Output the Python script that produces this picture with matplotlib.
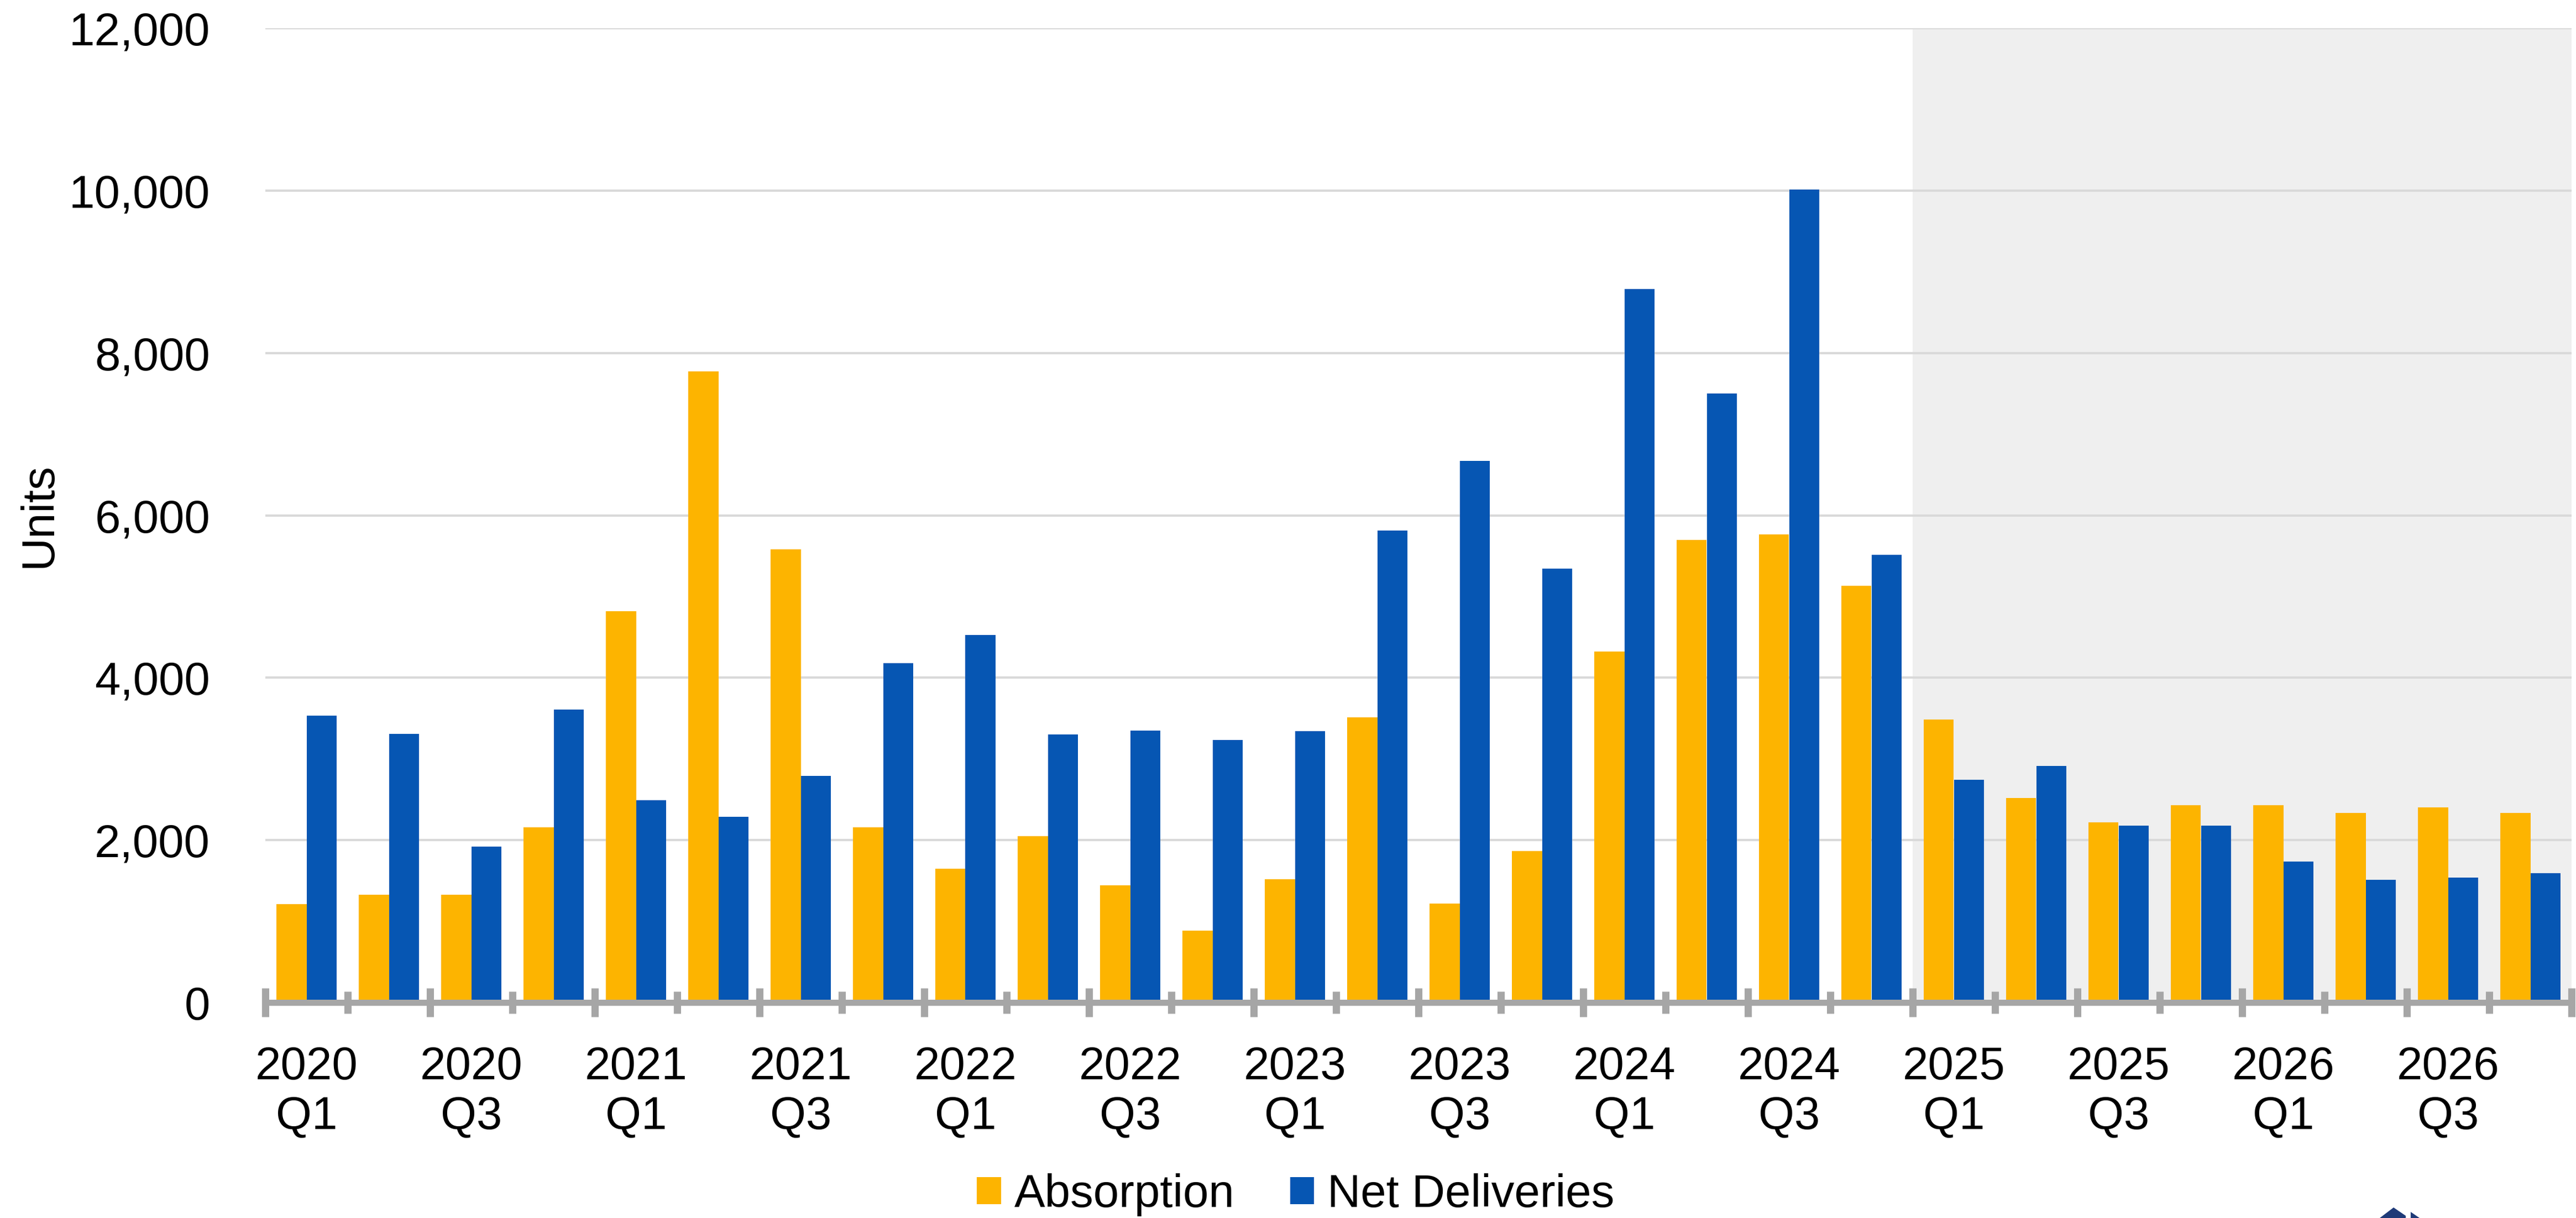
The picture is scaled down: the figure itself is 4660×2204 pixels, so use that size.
import numpy as np
import matplotlib.pyplot as plt
from matplotlib.patches import Polygon
from matplotlib.ticker import FuncFormatter

plt.rcParams['font.family'] = ['Liberation Sans', 'DejaVu Sans']

# quarters 2020 Q1 .. 2026 Q4
years = [2020, 2021, 2022, 2023, 2024, 2025, 2026]
quarters = [f"{y} Q{q}" for y in years for q in range(1, 5)]

absorption = [1210, 1330, 1330, 2160, 4820, 7770, 5580, 2160,
              1650, 2050, 1440, 885, 1520, 3510, 1220, 1865,
              4325, 5700, 5765, 5135, 3485, 2520, 2220, 2430,
              2430, 2335, 2405, 2335]
net_deliveries = [3530, 3310, 1920, 3610, 2490, 2290, 2790, 4180,
                  4525, 3300, 3350, 3235, 3345, 5815, 6670, 5340,
                  8785, 7500, 10015, 5510, 2740, 2915, 2180, 2180,
                  1735, 1510, 1535, 1595]
forecast_start = "2025 Q1"

orange = '#FDB400'
blue = '#0656B3'
gray = '#A6A6A6'

W, H = 4660, 2204
dpi = 200
fig = plt.figure(figsize=(W / dpi, H / dpi), dpi=dpi)
ax = fig.add_axes([480 / W, 1 - 1814 / H, (4652 - 480) / W, (1814 - 51) / H])

x = np.arange(len(quarters))
bw = 0.365

# forecast shading
fs = quarters.index(forecast_start)
ax.axvspan(fs - 0.5, len(quarters) - 0.5, ymin=0, ymax=1, color='#EFEFEF', zorder=0, lw=0)

ax.bar(x - bw / 2, absorption, bw, color=orange, label='Absorption', zorder=2)
ax.bar(x + bw / 2, net_deliveries, bw, color=blue, label='Net Deliveries', zorder=2)

ax.set_xlim(-0.5, len(quarters) - 0.5)
ax.set_ylim(0, 12000)
ax.set_yticks(range(0, 12001, 2000))
ax.yaxis.set_major_formatter(FuncFormatter(lambda v, p: f"{int(v):,}"))
ax.yaxis.grid(True, color='#D9D9D9', lw=1.5, zorder=0.5)
ax.set_axisbelow(True)
ax.tick_params(axis='y', length=0, pad=36, labelsize=30)
ax.set_ylabel('Units', fontsize=30)
ax.yaxis.set_label_coords(-0.0887, 0.5)

for s in ['top', 'right', 'left']:
    ax.spines[s].set_visible(False)
ax.spines['bottom'].set_color(gray)
ax.spines['bottom'].set_linewidth(3.96)
ax.spines['bottom'].set_zorder(3)

# long ticks every two quarters, short ticks in between
bounds = np.arange(-0.5, len(quarters), 1.0)
ax.set_xticks(bounds[::2])
ax.set_xticks(bounds[1::2], minor=True)
ax.tick_params(axis='x', which='major', direction='inout', length=19, width=4.7,
               color=gray, labelbottom=False)
ax.tick_params(axis='x', which='minor', direction='inout', length=14.4, width=4.7,
               color=gray)

# category labels on every other quarter
sec = ax.secondary_xaxis('bottom')
sec.set_xticks(x[::2], [q.replace(' ', '\n') for q in quarters[::2]])
sec.tick_params(length=0, pad=28, labelsize=30)
sec.spines['bottom'].set_visible(False)

fig.legend(loc='center', bbox_to_anchor=(0.503, 1 - 2162 / H), ncol=2, frameon=False,
           fontsize=30, handlelength=0.52, handleheight=0.52, handletextpad=0.29,
           columnspacing=1.2, borderpad=0, borderaxespad=0)

# cropped logo at bottom right
logo = '#1F3A78'
pts1 = [(4305, 2204), (4330, 2185), (4352, 2200), (4352, 2204)]
pts2 = [(4361, 2193), (4377, 2204), (4361, 2204)]
for pts in (pts1, pts2):
    fig.patches.append(Polygon([(px / W, 1 - py / H) for px, py in pts], closed=True,
                               transform=fig.transFigure, color=logo, lw=0))

fig.savefig('out.png', dpi=dpi)
